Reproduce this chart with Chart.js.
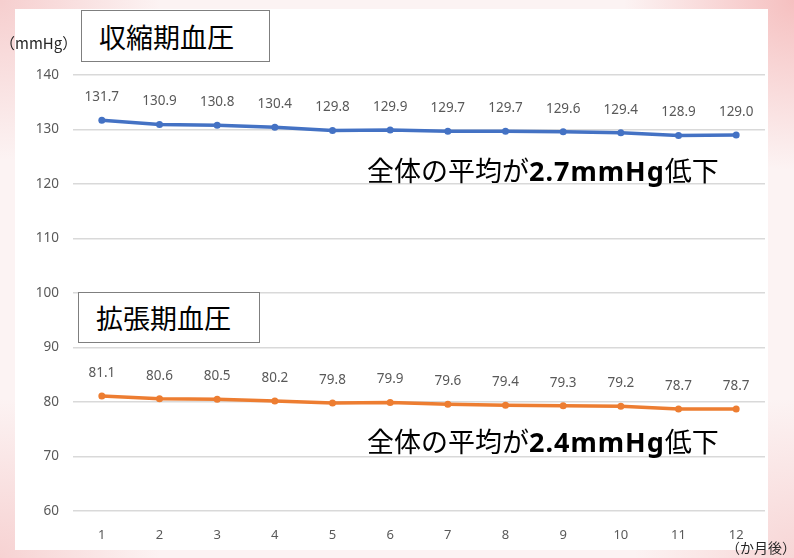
<!DOCTYPE html>
<html lang="ja">
<head>
<meta charset="utf-8">
<script src="https://cdn.jsdelivr.net/npm/chart.js@4/dist/chart.umd.min.js"></script>
<style>
  html, body { margin: 0; padding: 0; }
  body {
    width: 794px; height: 558px; position: relative; overflow: hidden;
    background:
      radial-gradient(circle at 0% 0%, rgba(240,170,170,0.5), rgba(255,255,255,0) 160px),
      radial-gradient(circle at 100% 0%, rgba(240,150,150,0.55), rgba(255,255,255,0) 170px),
      radial-gradient(circle at 0% 100%, rgba(240,170,170,0.45), rgba(255,255,255,0) 160px),
      radial-gradient(circle at 100% 100%, rgba(240,170,170,0.4), rgba(255,255,255,0) 160px),
      #fcf3f3;
    font-family: "Noto Sans CJK JP", "Noto Sans", sans-serif;
  }
  .panel { position: absolute; left: 15px; top: 9px; width: 753px; height: 541px; background: #fff; }
  canvas#bp { position: absolute; left: 0; top: 0; }
  .box { position: absolute; border: 1.5px solid #7f7f7f; background: #fff; box-sizing: border-box;
         font-size: 27px; color: #000; line-height: 1; padding-left: 17px; display: flex; align-items: center; }
  .note { position: absolute; font-size: 27px; color: #000; white-space: nowrap; line-height: 1; }
  .note b { font-family: "Noto Sans", sans-serif; font-weight: bold; font-size: 27px; letter-spacing: 1px; }
  .unit { position: absolute; font-size: 15px; color: #262626; white-space: nowrap; line-height: 1; }
</style>
</head>
<body>
<div class="panel"></div>
<canvas id="bp" width="794" height="558"></canvas>
<div class="unit" style="left:0px; top:35px;">（mmHg）</div>
<div class="box" style="left:81px; top:10px; width:189px; height:52px;">収縮期血圧</div>
<div class="box" style="left:78px; top:292px; width:182px; height:51px;">拡張期血圧</div>
<div class="note" style="left:367px; top:156px;">全体の平均が<b>2.7mmHg</b>低下</div>
<div class="note" style="left:367px; top:427px;">全体の平均が<b>2.4mmHg</b>低下</div>
<div class="unit" style="left:726px; top:540px; font-size:14px;">（か月後）</div>
<script>
// months after start
const months = ['1', '2', '3', '4', '5', '6', '7', '8', '9', '10', '11', '12'];
// average systolic blood pressure (mmHg)
const systolic = [131.7, 130.9, 130.8, 130.4, 129.8, 129.9, 129.7, 129.7, 129.6, 129.4, 128.9, 129.0];
// average diastolic blood pressure (mmHg)
const diastolic = [81.1, 80.6, 80.5, 80.2, 79.8, 79.9, 79.6, 79.4, 79.3, 79.2, 78.7, 78.7];
// y axis range
const yMin = 60;
const yMax = 140;
const yStep = 10;

// value labels above each point
const valueLabels = {
  id: 'valueLabels',
  afterDatasetsDraw(chart) {
    const ctx = chart.ctx;
    ctx.save();
    ctx.font = '13.5px "Noto Sans", sans-serif';
    ctx.fillStyle = '#595959';
    ctx.textAlign = 'center';
    ctx.textBaseline = 'middle';
    chart.data.datasets.forEach((ds, i) => {
      chart.getDatasetMeta(i).data.forEach((pt, j) => {
        ctx.fillText(ds.data[j].toFixed(1), pt.x, pt.y - 23);
      });
    });
    ctx.restore();
  }
};

new Chart(document.getElementById('bp'), {
  type: 'line',
  data: {
    labels: months,
    datasets: [
      { data: systolic, borderColor: '#4472C4', backgroundColor: '#4472C4',
        borderWidth: 3.5, pointRadius: 3.5, pointBorderWidth: 0, tension: 0 },
      { data: diastolic, borderColor: '#ED7D31', backgroundColor: '#ED7D31',
        borderWidth: 3.5, pointRadius: 3.5, pointBorderWidth: 0, tension: 0 }
    ]
  },
  options: {
    responsive: false,
    animation: false,
    layout: { padding: { top: 75, right: 29, bottom: 0, left: 0 } },
    plugins: { legend: { display: false }, tooltip: { enabled: false } },
    scales: {
      x: {
        offset: true,
        grid: { display: false },
        border: { display: false },
        ticks: { color: '#595959', font: { size: 13, family: '"Noto Sans", sans-serif' }, padding: 8 },
        afterFit(s) { s.height = 47; }
      },
      y: {
        min: yMin, max: yMax,
        ticks: { stepSize: yStep, color: '#595959', font: { size: 13.5, family: '"Noto Sans", sans-serif' }, padding: 14 },
        grid: { color: '#d9d9d9', lineWidth: 1.5, drawTicks: false },
        border: { display: false },
        afterFit(s) { s.width = 73; }
      }
    }
  },
  plugins: [valueLabels]
});
</script>
</body>
</html>
